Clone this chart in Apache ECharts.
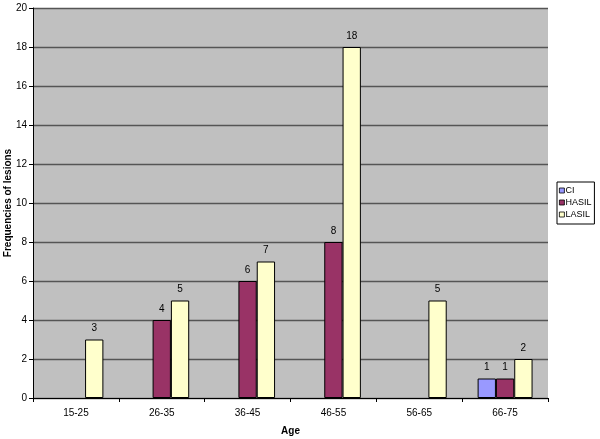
<!DOCTYPE html>
<html><head><meta charset="utf-8">
<script src="https://cdn.jsdelivr.net/npm/echarts@6/dist/echarts.min.js"></script>
<style>html,body{margin:0;padding:0;background:#fff}#c{width:600px;height:439px}</style>
</head><body><div id="c"></div>
<script>
const categories = ['15-25','26-35','36-45','46-55','56-65','66-75'];
const ciValues = [null, null, null, null, null, 1];
const hasilValues = [null, 4, 6, 8, null, 1];
const lasilValues = [3, 5, 7, 18, 5, 2];
const seriesNames = ['CI','HASIL','LASIL'];

const font = 'Liberation Sans, Arial, sans-serif';
const chart = echarts.init(document.getElementById('c'), null, {renderer:'canvas'});
const colors = ['#9999FF','#993366','#FFFFCC'];
function mk(name, data, i){
  return {
    name, type:'bar', data, barGap:'0%', barCategoryGap:'36%',
    itemStyle:{color:colors[i], borderColor:'#000', borderWidth:1},
    label:{show:true, position:'top', distance:6, color:'#000', fontFamily:font, fontSize:10,
      formatter:p=> p.value==null ? '' : p.value},
    emphasis:{disabled:true}, animation:false
  };
}
chart.setOption({
  animation:false,
  grid:{left:33, right:52, top:8, bottom:41, outerBoundsMode:'none', containLabel:false,
    backgroundColor:'#C0C0C0', show:true, borderWidth:0},
  legend:{
    orient:'vertical', left:557, top:182, itemWidth:5, itemHeight:5, itemGap:3,
    icon:'rect', borderColor:'#000', borderWidth:1, padding:[4,3,5,2], backgroundColor:'#fff',
    textStyle:{fontFamily:font, fontSize:9, color:'#000', lineHeight:9, padding:[0,0,0,-4]},
    itemStyle:{borderColor:'#000', borderWidth:0.8},
    data:seriesNames
  },
  xAxis:{
    type:'category', data:categories, boundaryGap:true,
    name:'Age', nameLocation:'middle', nameGap:28, nameMoveOverlap:false,
    nameTextStyle:{fontFamily:font, fontSize:10, fontWeight:'bold', color:'#000'},
    axisLine:{lineStyle:{color:'#000', width:1}},
    axisTick:{show:true, length:4, lineStyle:{color:'#000'}, alignWithLabel:false},
    axisLabel:{fontFamily:font, fontSize:10, color:'#000', margin:10}
  },
  yAxis:{
    type:'value', min:0, max:20, interval:2,
    name:'Frequencies of lesions', nameLocation:'middle', nameGap:20, nameRotate:90, nameMoveOverlap:false,
    nameTextStyle:{fontFamily:font, fontSize:10, fontWeight:'bold', color:'#000'},
    axisLine:{show:true, lineStyle:{color:'#000', width:1}},
    axisTick:{show:true, length:4, lineStyle:{color:'#000'}},
    axisLabel:{fontFamily:font, fontSize:10, color:'#000', margin:6},
    splitLine:{show:true, lineStyle:{color:'#555', width:1.3}}
  },
  series:[mk('CI',ciValues,0), mk('HASIL',hasilValues,1), mk('LASIL',lasilValues,2)]
});
</script></body></html>
